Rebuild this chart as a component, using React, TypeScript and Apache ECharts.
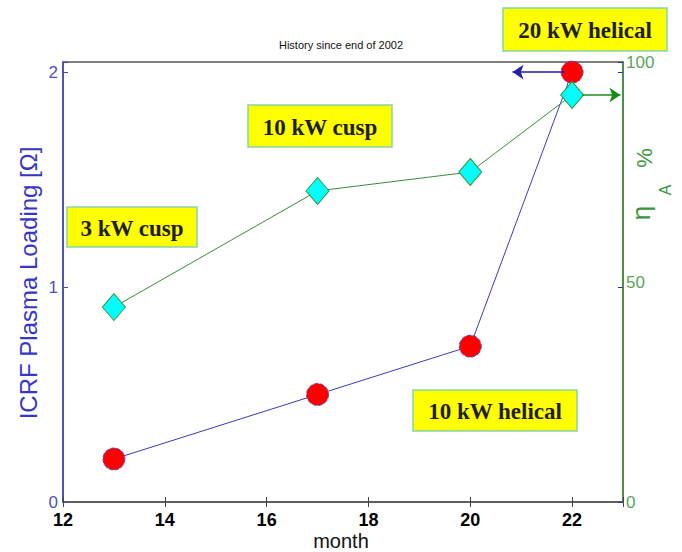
import React, { useEffect, useRef } from "react";
import * as echarts from "echarts";

const months = [13, 17, 20, 22];
const loadingOhm = [0.2, 0.5, 0.725, 2.0];
const etaPercent = [44.3, 70.7, 75.0, 92.5];
const xTicks = [12, 14, 16, 18, 20, 22];
const leftTicks = [0, 1, 2];
const rightTicks = [0, 50, 100];
const blueArrow = [[21.85, 2.0], [20.83, 2.0]];
const greenArrow = [[22.2, 92.5], [22.95, 92.5]];
const boxes = [
  { text: "3 kW cusp", x: 67, y: 207, w: 130, h: 40 },
  { text: "10 kW cusp", x: 248, y: 105, w: 144, h: 42 },
  { text: "10 kW helical", x: 413, y: 390, w: 164, h: 41 },
  { text: "20 kW helical", x: 503, y: 8, w: 164, h: 43 },
];

const BLUE = "#3a3ab8";
const GREEN = "#3a963a";

export default function App() {
  const ref = useRef<HTMLDivElement>(null);
  useEffect(() => {
    if (!ref.current) return;
    const chart = echarts.init(ref.current, undefined, { renderer: "svg" });
    const graphic: any[] = [];
    boxes.forEach((b) => {
      graphic.push({
        type: "rect",
        shape: { x: b.x, y: b.y, width: b.w, height: b.h },
        style: { fill: "#ffff00", stroke: "#86d6a6", lineWidth: 1.5 },
        z: 10,
      });
      graphic.push({
        type: "text",
        x: b.x + b.w / 2,
        y: b.y + b.h / 2 + 1,
        style: {
          text: b.text,
          fill: "#1e1e1e",
          font: "bold 23px 'Liberation Serif', 'Times New Roman', serif",
          textAlign: "center",
          textVerticalAlign: "middle",
        },
        z: 11,
      });
    });
    graphic.push(
      {
        type: "text",
        x: 341,
        y: 45,
        style: {
          text: "History since end of 2002",
          fill: "#111",
          font: "11px 'Liberation Sans', Arial, sans-serif",
          textAlign: "center",
          textVerticalAlign: "middle",
        },
      },
      {
        type: "text",
        x: 28,
        y: 283,
        rotation: Math.PI / 2,
        style: {
          text: "ICRF Plasma Loading [Ω]",
          fill: "#3636c8",
          font: "24px 'Liberation Sans', Arial, sans-serif",
          textAlign: "center",
          textVerticalAlign: "middle",
        },
      },
      {
        type: "text",
        x: 341,
        y: 541,
        style: {
          text: "month",
          fill: "#111",
          font: "20px 'Liberation Sans', Arial, sans-serif",
          textAlign: "center",
          textVerticalAlign: "middle",
        },
      },
      {
        type: "text",
        x: 641,
        y: 213,
        rotation: Math.PI / 2,
        style: {
          text: "η",
          fill: GREEN,
          font: "26px 'Liberation Sans', Arial, sans-serif",
          textAlign: "center",
          textVerticalAlign: "middle",
        },
      },
      {
        type: "text",
        x: 665,
        y: 190,
        rotation: Math.PI / 2,
        style: {
          text: "A",
          fill: GREEN,
          font: "16px 'Liberation Sans', Arial, sans-serif",
          textAlign: "center",
          textVerticalAlign: "middle",
        },
      },
      {
        type: "text",
        x: 644,
        y: 158,
        rotation: Math.PI / 2,
        style: {
          text: "%",
          fill: GREEN,
          font: "22px 'Liberation Sans', Arial, sans-serif",
          textAlign: "center",
          textVerticalAlign: "middle",
        },
      }
    );

    chart.setOption({
      animation: false,
      backgroundColor: "#ffffff",
      grid: {
        left: 63,
        right: 59,
        top: 62,
        bottom: 50,
        show: true,
        borderColor: "#555",
        borderWidth: 1.5,
      },
      xAxis: [
        {
          type: "value",
          min: 12,
          max: 23,
          interval: 2,
          axisLine: { show: true, lineStyle: { color: "#555", width: 1.5 }, onZero: false },
          axisTick: { inside: true, length: 5, lineStyle: { color: "#444" } },
          splitLine: { show: false },
          axisLabel: {
            margin: 9,
            color: "#000",
            fontWeight: "bold",
            fontSize: 18,
            fontFamily: "'Liberation Sans', Arial, sans-serif",
            formatter: (v: number) => (xTicks.includes(v) ? String(v) : ""),
          },
        },
        {
          type: "value",
          position: "top",
          min: 12,
          max: 23,
          interval: 2,
          axisLine: { show: false },
          axisTick: { inside: true, length: 5, lineStyle: { color: "#444" } },
          axisLabel: { show: false },
          splitLine: { show: false },
        },
      ],
      yAxis: [
        {
          type: "value",
          position: "left",
          min: 0,
          max: 2.047,
          interval: 1,
          axisLine: { show: true, lineStyle: { color: "#4545c4", width: 1.5 } },
          axisTick: { show: true, inside: true, length: 5, lineStyle: { color: "#4545c4" } },
          splitLine: { show: false },
          axisLabel: {
            margin: 5,
            color: "#5050c0",
            fontSize: 17,
            fontFamily: "'Liberation Sans', Arial, sans-serif",
            formatter: (v: number) => (leftTicks.includes(v) ? String(v) : ""),
          },
        },
        {
          type: "value",
          position: "right",
          min: 0,
          max: 100,
          interval: 50,
          axisLine: { show: true, lineStyle: { color: GREEN, width: 1.5 } },
          axisTick: { show: false },
          splitLine: { show: false },
          axisLabel: {
            margin: 3,
            color: "#5aa55a",
            fontSize: 17,
            fontFamily: "'Liberation Sans', Arial, sans-serif",
            formatter: (v: number) => (rightTicks.includes(v) ? String(v) : ""),
          },
        },
        {
          type: "value",
          position: "right",
          min: 0,
          max: 2.047,
          interval: 1,
          axisLine: { show: false },
          axisTick: { show: true, inside: true, length: 5, lineStyle: { color: "#3030a0" } },
          axisLabel: { show: false },
          splitLine: { show: false },
        },
      ],
      series: [
        {
          type: "line",
          xAxisIndex: 0,
          yAxisIndex: 0,
          data: months.map((m, i) => [m, loadingOhm[i]]),
          symbol: "circle",
          symbolSize: 22,
          itemStyle: { color: "#ff0000", borderColor: "#5050b8", borderWidth: 1, borderType: "dashed" },
          lineStyle: { color: BLUE, width: 1 },
          z: 3,
          markLine: {
            silent: true,
            symbol: ["none", "arrow"],
            symbolSize: 11,
            label: { show: false },
            itemStyle: { color: "#2020a8" },
            lineStyle: { color: "#2020a8", width: 1.5, type: "solid" },
            data: [[{ coord: blueArrow[0] }, { coord: blueArrow[1] }]],
          },
        },
        {
          type: "line",
          xAxisIndex: 0,
          yAxisIndex: 1,
          data: months.map((m, i) => [m, etaPercent[i]]),
          symbol: "diamond",
          symbolSize: [23, 27],
          itemStyle: { color: "#00ffff", borderColor: "#3a9a3a", borderWidth: 1 },
          lineStyle: { color: "#3a8c3a", width: 1 },
          z: 4,
          markLine: {
            silent: true,
            symbol: ["none", "arrow"],
            symbolSize: 11,
            label: { show: false },
            itemStyle: { color: "#1a8a1a" },
            lineStyle: { color: "#1a8a1a", width: 1.5, type: "solid" },
            data: [[{ coord: greenArrow[0] }, { coord: greenArrow[1] }]],
          },
        },
      ],
      graphic,
    });
    return () => chart.dispose();
  }, []);
  return <div ref={ref} style={{ width: 682, height: 552, position: "absolute", left: 0, top: 0 }} />;
}
